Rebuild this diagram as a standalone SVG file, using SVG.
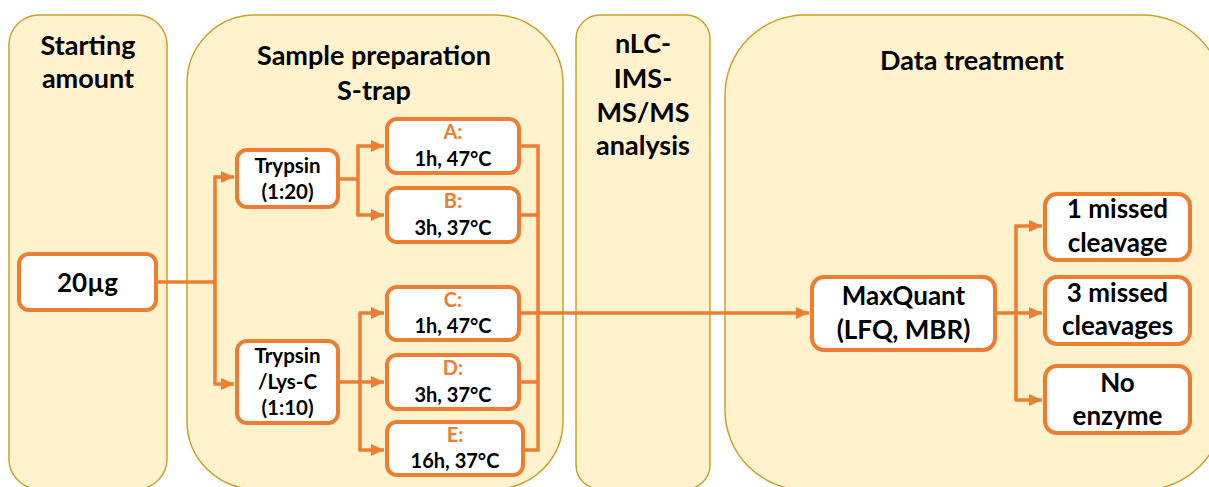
<svg xmlns="http://www.w3.org/2000/svg" width="1209" height="487" viewBox="0 0 1209 487">
<defs>
<style>
.panel{fill:#FFF2CC;stroke:#C9A12B;stroke-width:1.5}
.box{fill:#FFFFFF;stroke:#ED7D31;stroke-width:4}
.ln{fill:none;stroke:#ED7D31;stroke-width:3.5}
.arr{fill:none;stroke:#ED7D31;stroke-width:3.5;marker-end:url(#ah)}
text{font-family:Lato,"Liberation Sans",sans-serif;font-weight:bold;fill:#000;text-anchor:middle}
.title{font-size:27px}
.big{font-size:26px}
.mid{font-size:26px}
.sm{font-size:20.5px}
.xs{font-size:20px}
.or{fill:#ED7D31}
</style>
<marker id="ah" markerUnits="userSpaceOnUse" markerWidth="13" markerHeight="12" refX="13" refY="6" orient="auto">
<path d="M0,0 L13,6 L0,12 z" fill="#ED7D31"/>
</marker>
</defs>

<g id="panels">
<rect id="panel-start" class="panel" x="9" y="15" width="158" height="474" rx="30"/>
<rect id="panel-prep" class="panel" x="187" y="15" width="376" height="474" rx="68"/>
<rect id="panel-ms" class="panel" x="576" y="15" width="134" height="474" rx="24"/>
<rect id="panel-data" class="panel" x="725" y="15" width="498" height="475" rx="80"/>
<text class="title" x="88" y="55">Starting</text>
<text class="title" x="88" y="88">amount</text>
<text class="title" x="374" y="65">Sample preparation</text>
<text class="title" x="374" y="100">S-trap</text>
<text class="title" x="643" y="53">nLC-</text>
<text class="title" x="643" y="88">IMS-</text>
<text class="title" x="643" y="122">MS/MS</text>
<text class="title" x="643" y="155">analysis</text>
<text class="title" x="972" y="70">Data treatment</text>
</g>

<g id="connectors">
<path class="ln" d="M156,282 H215 M215,177 V384"/>
<path class="arr" d="M213.5,177 H234"/>
<path class="arr" d="M213.5,384 H234"/>
<path class="ln" d="M338,179 H358 M358,146 V215"/>
<path class="arr" d="M356.5,146 H384"/>
<path class="arr" d="M356.5,215 H384"/>
<path class="ln" d="M338,382 H360 M360,313 V450"/>
<path class="arr" d="M358.5,313 H384"/>
<path class="arr" d="M358.5,382 H384"/>
<path class="arr" d="M358.5,450 H384"/>
<path class="ln" d="M519,146 H538 M519,215 H538 M519,382 H538 M521,450 H538 M538,144.25 V451.75"/>
<path class="arr" d="M519,313 H809"/>
<path class="ln" d="M995,313 H1016 M1016,226 V400"/>
<path class="arr" d="M1014.5,226 H1042"/>
<path class="arr" d="M1014.5,313 H1042"/>
<path class="arr" d="M1014.5,400 H1042"/>
</g>

<g id="n-20ug">
<rect class="box" x="19" y="254" width="137" height="56" rx="10"/>
<text class="big" x="87.5" y="292">20µg</text>
</g>
<g id="n-trypsin">
<rect class="box" x="237" y="150" width="101" height="57" rx="10"/>
<text class="sm" x="287.5" y="173">Trypsin</text>
<text class="sm" x="287.5" y="199">(1:20)</text>
</g>
<g id="n-trypsin-lysc">
<rect class="box" x="237" y="341" width="101" height="82" rx="10"/>
<text class="sm" x="287.5" y="363">Trypsin</text>
<text class="sm" x="287.5" y="389">/Lys-C</text>
<text class="sm" x="287.5" y="415">(1:10)</text>
</g>
<g id="n-A">
<rect class="box" x="387" y="119" width="132" height="54" rx="10"/>
<text class="xs or" x="453" y="139">A:</text>
<text class="xs" x="453" y="166">1h, 47°C</text>
</g>
<g id="n-B">
<rect class="box" x="387" y="188" width="132" height="54" rx="10"/>
<text class="xs or" x="453" y="208">B:</text>
<text class="xs" x="453" y="235">3h, 37°C</text>
</g>
<g id="n-C">
<rect class="box" x="387" y="287" width="132" height="53" rx="10"/>
<text class="xs or" x="453" y="307">C:</text>
<text class="xs" x="453" y="333">1h, 47°C</text>
</g>
<g id="n-D">
<rect class="box" x="387" y="355" width="132" height="54" rx="10"/>
<text class="xs or" x="453" y="375">D:</text>
<text class="xs" x="453" y="402">3h, 37°C</text>
</g>
<g id="n-E">
<rect class="box" x="387" y="422" width="136" height="53" rx="10"/>
<text class="xs or" x="455" y="442">E:</text>
<text class="xs" x="455" y="468">16h, 37°C</text>
</g>
<g id="n-maxquant">
<rect class="box" x="812" y="277" width="183" height="73" rx="12"/>
<text class="mid" x="903.5" y="305">MaxQuant</text>
<text class="mid" x="903.5" y="339">(LFQ, MBR)</text>
</g>
<g id="n-1missed">
<rect class="box" x="1045" y="194" width="145" height="66" rx="12"/>
<text class="mid" x="1117.5" y="218">1 missed</text>
<text class="mid" x="1117.5" y="252">cleavage</text>
</g>
<g id="n-3missed">
<rect class="box" x="1045" y="277" width="145" height="67" rx="12"/>
<text class="mid" x="1117.5" y="302">3 missed</text>
<text class="mid" x="1117.5" y="335">cleavages</text>
</g>
<g id="n-noenzyme">
<rect class="box" x="1045" y="366" width="145" height="67" rx="12"/>
<text class="mid" x="1117.5" y="392">No</text>
<text class="mid" x="1117.5" y="425">enzyme</text>
</g>
</svg>
